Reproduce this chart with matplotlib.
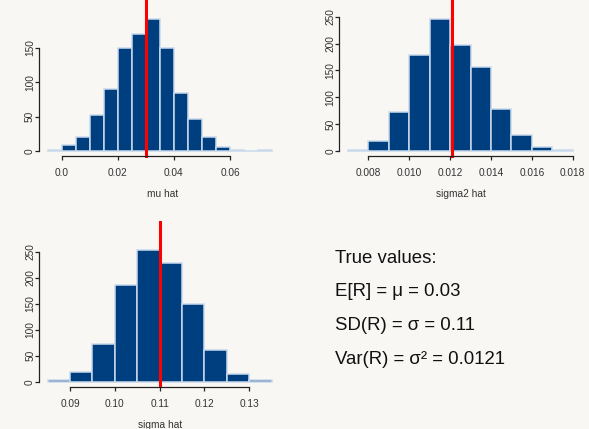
import matplotlib
matplotlib.use('Agg')
import matplotlib.pyplot as plt

plt.rcParams['font.family'] = ['Liberation Sans', 'DejaVu Sans']

W, H = 589, 429

# histogram data (bin edges + counts)
mu_edges = [-0.005, 0.0, 0.005, 0.01, 0.015, 0.02, 0.025, 0.03, 0.035,
            0.04, 0.045, 0.05, 0.055, 0.06, 0.065, 0.07, 0.075]
mu_counts = [1, 9, 20, 52, 90, 150, 170, 192, 150, 84, 47, 21, 6, 2, 0, 1]
mu_ticks = [0.0, 0.02, 0.04, 0.06]
mu_ticklabels = ['0.0', '0.02', '0.04', '0.06']
mu_yticks = [0, 50, 100, 150]

sigma2_edges = [0.007, 0.008, 0.009, 0.010, 0.011, 0.012, 0.013,
                0.014, 0.015, 0.016, 0.017, 0.018]
sigma2_counts = [2, 18, 72, 179, 245, 197, 157, 79, 29, 8, 1]
sigma2_ticks = [0.008, 0.010, 0.012, 0.014, 0.016, 0.018]
sigma2_ticklabels = ['0.008', '0.010', '0.012', '0.014', '0.016', '0.018']
sigma2_yticks = [0, 50, 100, 150, 200, 250]

sigma_edges = [0.085, 0.09, 0.095, 0.10, 0.105, 0.11, 0.115,
               0.12, 0.125, 0.13, 0.135]
sigma_counts = [4, 19, 72, 185, 254, 229, 149, 60, 15, 3]
sigma_ticks = [0.09, 0.10, 0.11, 0.12, 0.13]
sigma_ticklabels = ['0.09', '0.10', '0.11', '0.12', '0.13']
sigma_yticks = [0, 50, 100, 150, 200, 250]

true_mu = 0.03
true_sigma = 0.11
true_sigma2 = 0.0121

text_lines = ['True values:',
              'E[R] = \u03bc = 0.03',
              'SD(R) = \u03c3 = 0.11',
              'Var(R) = \u03c3\u00b2 = 0.0121']

BAR = '#003f7f'
EDGE = '#c9d9eb'
BG = '#f8f7f4'
TICK_FS = 7.3


def add_panel(fig, xmap, ymap, xlim, ylim):
    # xmap: pixel = a + b*x, ymap: pixel(from top) = c - d*y
    a, b = xmap
    c, d = ymap
    left = a + b * xlim[0]
    width = b * (xlim[1] - xlim[0])
    top = c - d * ylim[1]
    bottom = c - d * ylim[0]
    ax = fig.add_axes([left / W, 1 - bottom / H, width / W, (bottom - top) / H])
    ax.set_xlim(xlim)
    ax.set_ylim(ylim)
    return ax


def draw_hist(ax, edges, counts, xticks, xticklabels, yticks, xlabel, truth, spine_y):
    widths = [edges[i + 1] - edges[i] for i in range(len(counts))]
    ax.bar(edges[:-1], counts, width=widths, align='edge', color=BAR,
           edgecolor=EDGE, linewidth=1.1)
    ax.axvline(truth, color='#ff0000', linewidth=2.2)
    ax.patch.set_alpha(0)
    for s in ['top', 'right']:
        ax.spines[s].set_visible(False)
    ax.spines['left'].set_bounds(yticks[0], yticks[-1])
    ax.spines['bottom'].set_bounds(xticks[0], xticks[-1])
    ax.spines['bottom'].set_position(('data', spine_y))
    for s in ['left', 'bottom']:
        ax.spines[s].set_linewidth(0.9)
        ax.spines[s].set_color('#222222')
    ax.set_xticks(xticks)
    ax.set_xticklabels(xticklabels)
    ax.set_yticks(yticks)
    ax.set_yticklabels([str(v) for v in yticks], rotation=90, va='center')
    ax.tick_params(axis='both', length=2.6, width=0.9, color='#222222',
                   labelsize=TICK_FS, labelcolor='#333333')
    ax.tick_params(axis='x', pad=6.6)
    ax.tick_params(axis='y', pad=0.4)
    ax.set_xlabel(xlabel, fontsize=TICK_FS, color='#333333', labelpad=7.8)


fig = plt.figure(figsize=(W / 100, H / 100), dpi=100)
fig.patch.set_facecolor(BG)

# top-left: mu hat
ax1 = add_panel(fig, (61.7, 2805.0), (151.0, 0.689), (-0.00809, 0.08), (-10.2, 219.2))
draw_hist(ax1, mu_edges, mu_counts, mu_ticks, mu_ticklabels, mu_yticks,
          'mu hat', true_mu, -6.8)

# top-right: sigma2 hat
ax2 = add_panel(fig, (204.78, 20440.0), (151.0, 0.5373), (0.006581, 0.0185), (-13.0, 281.0))
draw_hist(ax2, sigma2_edges, sigma2_counts, sigma2_ticks, sigma2_ticklabels,
          sigma2_yticks, 'sigma2 hat', true_sigma2, -8.75)

# bottom-left: sigma hat
ax3 = add_panel(fig, (-333.47, 4483.0), (381.7, 0.52), (0.08315, 0.137), (-12.1, 309.0))
draw_hist(ax3, sigma_edges, sigma_counts, sigma_ticks, sigma_ticklabels,
          sigma_yticks, 'sigma hat', true_sigma, -9.6)

# bottom-right text block
baselines = [262.7, 296.5, 330.3, 364.0]
for line, yb in zip(text_lines, baselines):
    fig.text(335 / W, 1 - yb / H, line, fontsize=13.4, color='#111111',
             ha='left', va='baseline')

fig.savefig('out.png', dpi=100, facecolor=fig.get_facecolor())
